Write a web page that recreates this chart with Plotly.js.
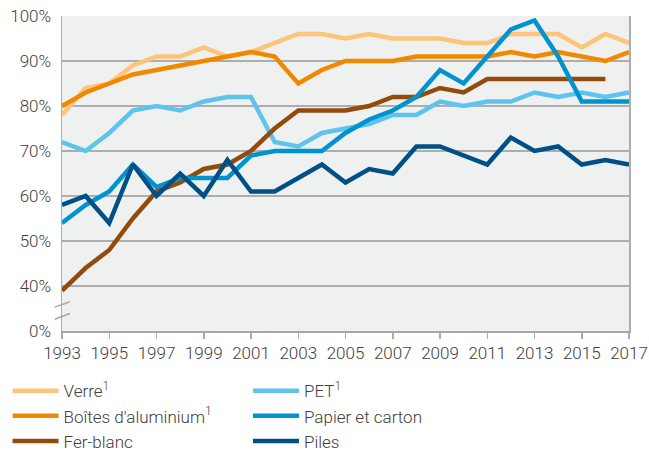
<!DOCTYPE html>
<html>
<head>
<meta charset="utf-8">
<script src="https://cdn.plot.ly/plotly-3.0.1.min.js"></script>
<style>html,body{margin:0;padding:0;background:#fff;}#chart{width:649px;height:452px;}</style>
</head>
<body>
<div id="chart"></div>
<script>
const years = [1993,1994,1995,1996,1997,1998,1999,2000,2001,2002,2003,2004,2005,2006,2007,2008,2009,2010,2011,2012,2013,2014,2015,2016,2017];
const verre =      [78,84,85,89,91,91,93,91,92,94,96,96,95,96,95,95,95,94,94,96,96,96,93,96,94];
const aluminium =  [80,83,85,87,88,89,90,91,92,91,85,88,90,90,90,91,91,91,91,92,91,92,91,90,92];
const ferBlanc =   [39,44,48,55,61,63,66,67,70,75,79,79,79,80,82,82,84,83,86,86,86,86,86,86,null];
const pet =        [72,70,74,79,80,79,81,82,82,72,71,74,75,76,78,78,81,80,81,81,83,82,83,82,83];
const papier =     [54,58,61,67,62,64,64,64,69,70,70,70,74,77,79,82,88,85,91,97,99,91,81,81,81];
const piles =      [58,60,54,67,60,65,60,68,61,61,64,67,63,66,65,71,71,69,67,73,70,71,67,68,67];

const yTickVals = [30,40,50,60,70,80,90,100];
const yTickText = ['0%','40%','50%','60%','70%','80%','90%','100%'];
const xTickVals = [1993,1995,1997,1999,2001,2003,2005,2007,2009,2011,2013,2015,2017];

const series = [
  {name:'Verre<sup>1</sup>', y:verre, color:'#fdc47a', legend:'legend'},
  {name:"Boîtes d'aluminium<sup>1</sup>", y:aluminium, color:'#f08800', legend:'legend'},
  {name:'Fer-blanc', y:ferBlanc, color:'#934b0c', legend:'legend'},
  {name:'PET<sup>1</sup>', y:pet, color:'#5ec4ee', legend:'legend2'},
  {name:'Papier et carton', y:papier, color:'#0093cf', legend:'legend2'},
  {name:'Piles', y:piles, color:'#005086', legend:'legend2'}
];
const drawOrder = [3,0,1,2,4,5];
const traces = drawOrder.map(i => {
  const s = series[i];
  return {x:years, y:s.y, name:s.name, type:'scatter', mode:'lines',
    line:{color:s.color, width:4.5}, legend:s.legend, legendgroup:'g'+i, legendrank:i,
    connectgaps:false, hoverinfo:'skip'};
});

const font = {family:'Roboto, sans-serif', size:17, color:'#404040', weight:300};
const legendCommon = {orientation:'v', font:font, bgcolor:'rgba(0,0,0,0)', borderwidth:0,
  tracegroupgap:11.5, itemwidth:46, yanchor:'top', y:-0.134, traceorder:'normal'};

const layout = {
  width:649, height:452,
  margin:{l:62, r:20, t:16, b:121, autoexpand:false},
  paper_bgcolor:'#ffffff', plot_bgcolor:'#eff0f0',
  font:font,
  showlegend:true,
  legend:Object.assign({}, legendCommon, {x:-0.096, xanchor:'left'}),
  legend2:Object.assign({}, legendCommon, {x:0.328, xanchor:'left'}),
  xaxis:{range:[1993,2017], tickvals:xTickVals, ticks:'outside', ticklen:6, tickcolor:'#aaaaaa', tickwidth:1.5,
    showgrid:false, showline:true, linecolor:'#a6a6a6', linewidth:2, zeroline:false, tickfont:font, fixedrange:true, automargin:false, tickangle:0},
  yaxis:{range:[30,100], tickvals:yTickVals, ticktext:yTickText, showgrid:true, gridcolor:'#adadad', gridwidth:1.2,
    showline:true, mirror:true, linecolor:'#adadad', linewidth:1.5, zeroline:false, ticks:'', ticklabelstandoff:6, tickfont:font, fixedrange:true, automargin:false},
  shapes:[
    {type:'line', xref:'paper', yref:'y', x0:-0.013, x1:0.014, y0:35.3, y1:36.5, line:{color:'#a6a6a6', width:1.5}},
    {type:'line', xref:'paper', yref:'y', x0:-0.013, x1:0.014, y0:32.6, y1:33.9, line:{color:'#a6a6a6', width:1.5}}
  ]
};
Plotly.newPlot('chart', traces, layout, {displayModeBar:false, staticPlot:true});
</script>
</body>
</html>
